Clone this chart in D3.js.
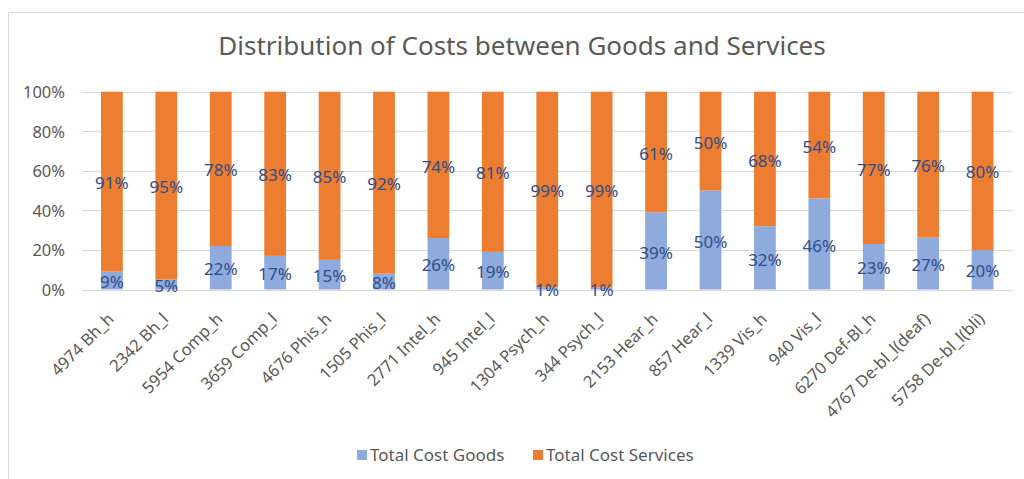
<!DOCTYPE html>
<html>
<head>
<meta charset="utf-8">
<script src="https://cdn.jsdelivr.net/npm/d3@7"></script>
<style>
  body { margin: 0; background: #fff; }
  svg text { font-family: "Noto Sans", "Open Sans", sans-serif; }
</style>
</head>
<body>
<div id="chart"></div>
<script>
"use strict";

// categories (x axis)
var categories = ["4974 Bh_h", "2342 Bh_l", "5954 Comp_h", "3659 Comp_l", "4676 Phis_h",
  "1505 Phis_l", "2771 Intel_h", "945 Intel_l", "1304 Psych_h", "344 Psych_l",
  "2153 Hear_h", "857 Hear_l", "1339 Vis_h", "940 Vis_l", "6270 Def-Bl_h",
  "4767 De-bl_l(deaf)", "5758 De-bl_l(bli)"];

// series values (percent shares as labelled)
var goods =    [9, 5, 22, 17, 15, 8, 26, 19, 1, 1, 39, 50, 32, 46, 23, 27, 20];
var services = [91, 95, 78, 83, 85, 92, 74, 81, 99, 99, 61, 50, 68, 54, 77, 76, 80];

var seriesNames = ["Total Cost Goods", "Total Cost Services"];
var yTicks = [0, 0.2, 0.4, 0.6, 0.8, 1];

var W = 1024, H = 479;
var colors = { goods: "#8faadc", services: "#ed7d31" };

var svg = d3.select("#chart").append("svg")
    .attr("width", W)
    .attr("height", H);

// chart area border (Excel frame)
svg.append("rect")
    .attr("x", 8.5).attr("y", 12.5)
    .attr("width", W + 20).attr("height", H + 20)
    .attr("fill", "#fff")
    .attr("stroke", "#d9d9d9");

// title, fit to the width seen in the reference
var title = svg.append("text")
    .attr("x", 522).attr("y", 55)
    .attr("text-anchor", "middle")
    .attr("fill", "#595959")
    .style("font-size", "24px")
    .text("Distribution of Costs between Goods and Services");
var tw = title.node().getComputedTextLength();
title.style("font-size", (24 * 608 / tw) + "px");

// build table for stacking
var table = categories.map(function(c, i) {
  return { cat: c, goods: goods[i], services: services[i] };
});

var stack = d3.stack()
    .keys(["goods", "services"])
    .offset(d3.stackOffsetExpand);
var layers = stack(table);

var x = d3.scaleBand()
    .domain(categories)
    .range([84.7, 1009.8])
    .paddingInner(0.6)
    .paddingOuter(0.3);

var y = d3.scaleLinear()
    .domain([0, 1])
    .range([289.5, 91.7]);

// gridlines
svg.append("g").selectAll("line")
    .data(yTicks)
  .enter().append("line")
    .attr("x1", 82).attr("x2", 1012)
    .attr("y1", function(d) { return Math.round(y(d)) + 0.5; })
    .attr("y2", function(d) { return Math.round(y(d)) + 0.5; })
    .attr("stroke", "#d9d9d9")
    .attr("stroke-width", 1);

// y axis labels
var yAxis = d3.axisLeft(y)
    .tickValues(yTicks)
    .tickFormat(d3.format(".0%"))
    .tickSize(0)
    .tickPadding(0);
var gy = svg.append("g")
    .attr("transform", "translate(65,0)")
    .call(yAxis);
gy.select(".domain").remove();
gy.selectAll("text")
    .attr("fill", "#595959")
    .style("font-size", "16.5px")
    .attr("dy", "0.36em");

// bars
var layerG = svg.append("g").selectAll("g")
    .data(layers)
  .enter().append("g")
    .attr("fill", function(d) { return colors[d.key]; });

layerG.selectAll("rect")
    .data(function(d) { return d; })
  .enter().append("rect")
    .attr("x", function(d) { return x(d.data.cat); })
    .attr("width", x.bandwidth())
    .attr("y", function(d) { return y(d[1]); })
    .attr("height", function(d) { return y(d[0]) - y(d[1]); });

// base line over the bars
svg.append("line")
    .attr("x1", 82).attr("x2", 1012)
    .attr("y1", Math.round(y(0)) + 0.5).attr("y2", Math.round(y(0)) + 0.5)
    .attr("stroke", "#d9d9d9");

// data labels in the middle of each segment
layers.forEach(function(layer) {
  svg.append("g").selectAll("text")
      .data(layer)
    .enter().append("text")
      .attr("x", function(d) { return x(d.data.cat) + x.bandwidth() / 2; })
      .attr("y", function(d) { return (y(d[0]) + y(d[1])) / 2; })
      .attr("dy", "0.45em")
      .attr("text-anchor", "middle")
      .attr("fill", "#2f4d8a")
      .style("font-size", "17px")
      .text(function(d) { return d.data[layer.key] + "%"; });
});

// x axis labels, rotated
svg.append("g").selectAll("text")
    .data(categories)
  .enter().append("text")
    .attr("transform", function(d) {
      return "translate(" + (x(d) + x.bandwidth() / 2 + 3) + ",320) rotate(-45)";
    })
    .attr("text-anchor", "end")
    .attr("fill", "#595959")
    .style("font-size", "16.5px")
    .text(function(d) { return d; });

// legend
var legendX = [357, 533];
var legend = svg.append("g").selectAll("g")
    .data(seriesNames)
  .enter().append("g")
    .attr("transform", function(d, i) { return "translate(" + legendX[i] + ",450)"; });
legend.append("rect")
    .attr("width", 10).attr("height", 10)
    .attr("fill", function(d, i) { return i === 0 ? colors.goods : colors.services; });
legend.append("text")
    .attr("x", 13).attr("y", 5)
    .attr("dy", "0.36em")
    .attr("fill", "#595959")
    .style("font-size", "17px")
    .text(function(d) { return d; });
</script>
</body>
</html>
